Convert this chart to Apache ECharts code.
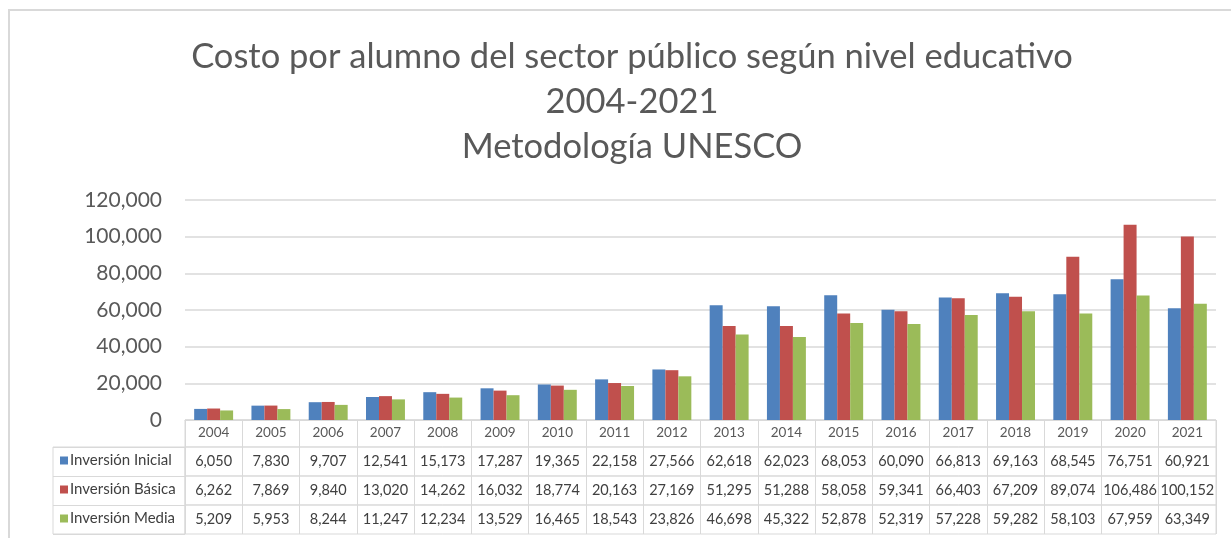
<!DOCTYPE html>
<html>
<head>
<meta charset="utf-8">
<script src="https://cdn.jsdelivr.net/npm/echarts@6/dist/echarts.min.js"></script>
<style>
  html, body { margin: 0; padding: 0; background: #fff; }
  #chart { width: 1231px; height: 538px; }
</style>
</head>
<body>
<div id="chart"></div>
<script>
const years = ["2004", "2005", "2006", "2007", "2008", "2009", "2010", "2011", "2012",
  "2013", "2014", "2015", "2016", "2017", "2018", "2019", "2020", "2021"];
const inicial = [6050, 7830, 9707, 12541, 15173, 17287, 19365, 22158, 27566,
  62618, 62023, 68053, 60090, 66813, 69163, 68545, 76751, 60921];
const basica = [6262, 7869, 9840, 13020, 14262, 16032, 18774, 20163, 27169,
  51295, 51288, 58058, 59341, 66403, 67209, 89074, 106486, 100152];
const media = [5209, 5953, 8244, 11247, 12234, 13529, 16465, 18543, 23826,
  46698, 45322, 52878, 52319, 57228, 59282, 58103, 67959, 63349];
const names = ["Inversión Inicial", "Inversión Básica", "Inversión Media"];
const colors = ["#4F81BD", "#C0504D", "#9BBB59"];
const yMin = 0, yMax = 120000, yStep = 20000;

const FONT = "Lato";
const LINE = "#D9D9D9";
const fmt = (v) => Number(v).toLocaleString("en-US");

let myChart = echarts.init(document.getElementById("chart"));

const rows = [inicial, basica, media];
const rowTops = [447, 476, 505];
const rowH = 29;

// grids: 0 grafico, 1 encabezado anos, 2-4 filas de tabla, 5 columna de nombres
let grids = [
  { left: 185, right: 15, top: 200, bottom: 118 },
  { left: 185, right: 15, top: 420, height: 27, show: true, borderColor: LINE, borderWidth: 1 },
];
rowTops.forEach((t) => {
  grids.push({ left: 185, right: 15, top: t, height: rowH, show: true, borderColor: LINE, borderWidth: 1 });
});
grids.push({ left: 53, width: 132, top: 447, height: rowH * 3, show: true, borderColor: LINE, borderWidth: 1 });

let xAxes = [
  {
    gridIndex: 0, type: "category", data: years,
    axisLine: { lineStyle: { color: LINE } },
    axisTick: { show: false }, axisLabel: { show: false },
  },
  {
    gridIndex: 1, type: "category", data: years, position: "top",
    axisLine: { show: false }, axisTick: { show: false },
    splitLine: { show: true, lineStyle: { color: LINE } },
    axisLabel: { inside: true, interval: 0, margin: 13, verticalAlign: "middle",
      color: "#595959", fontSize: 13.5, fontFamily: FONT },
  },
];
rows.forEach((arr, i) => {
  xAxes.push({
    gridIndex: i + 2, type: "category", data: years, position: "top",
    axisLine: { show: false }, axisTick: { show: false },
    splitLine: { show: true, lineStyle: { color: LINE } },
    axisLabel: { inside: true, interval: 0, margin: 14, verticalAlign: "middle",
      color: "#404040", fontSize: 14.5, fontFamily: FONT,
      formatter: (v, idx) => fmt(arr[idx]) },
  });
});
xAxes.push({ gridIndex: 5, type: "value", show: false });

let yAxes = [
  {
    gridIndex: 0, type: "value", min: yMin, max: yMax, interval: yStep,
    axisLine: { show: false }, axisTick: { show: false },
    splitLine: { lineStyle: { color: LINE, width: 1.5 } },
    axisLabel: { color: "#595959", fontSize: 21, fontFamily: FONT, margin: 23,
      formatter: (v) => fmt(v) },
  },
];
for (let g = 1; g <= 4; g++) {
  yAxes.push({ gridIndex: g, type: "value", show: false });
}
yAxes.push({
  gridIndex: 5, type: "category", data: names, inverse: true,
  axisLine: { show: false }, axisTick: { show: false }, axisLabel: { show: false },
  splitLine: { show: true, lineStyle: { color: LINE } },
});

let option = {
  backgroundColor: "#fff",
  animation: false,
  title: {
    text: "Costo por alumno del sector público según nivel educativo\n2004-2021\nMetodología UNESCO",
    left: 627, top: 29, textAlign: "center",
    textStyle: { color: "#595959", fontSize: 34.5, fontWeight: "normal", fontFamily: FONT, lineHeight: 45 },
  },
  legend: names.map((n, i) => ({
    data: [n], orient: "vertical", left: 60, top: rowTops[i] + 6, padding: 0,
    icon: "rect", itemWidth: 8, itemHeight: 8, itemGap: 0,
    textStyle: { color: "#404040", fontSize: 15, fontFamily: FONT, padding: [0, 0, 0, -3] },
  })),
  grid: grids,
  xAxis: xAxes,
  yAxis: yAxes,
  graphic: [
    { type: "rect", shape: { x: 9, y: 10, width: 1300, height: 600 },
      style: { fill: "none", stroke: LINE, lineWidth: 2 }, silent: true },
  ],
  series: rows.map((arr, i) => ({
    name: names[i], type: "bar", xAxisIndex: 0, yAxisIndex: 0,
    data: arr, barGap: "0%", barCategoryGap: "32%",
    itemStyle: { color: colors[i] },
  })),
};
myChart.setOption(option);
</script>
</body>
</html>
